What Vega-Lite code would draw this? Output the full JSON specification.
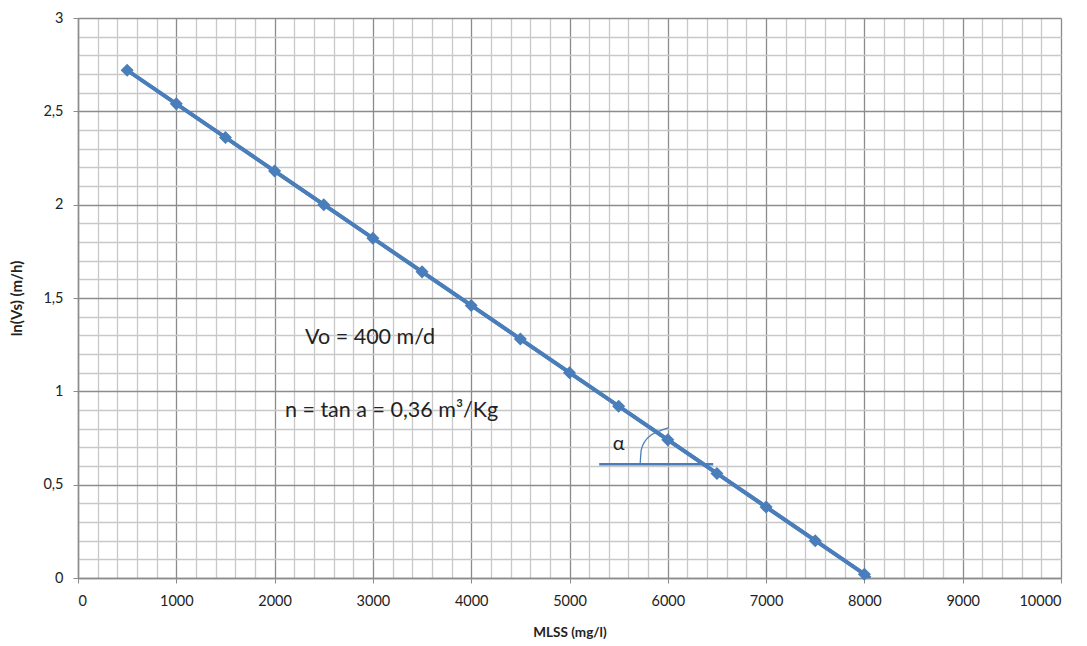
{
  "$schema": "https://vega.github.io/schema/vega-lite/v6.json",
  "width": 983,
  "height": 560,
  "autosize": {"type": "none"},
  "padding": {"left": 78, "top": 18, "right": 26, "bottom": 68},
  "background": "white",
  "config": {
    "view": {"stroke": null},
    "font": "Lato",
    "axis": {
      "labelFont": "Lato",
      "titleFont": "Lato",
      "labelColor": "#222222",
      "titleColor": "#222222",
      "domainColor": "#8c8c8c",
      "domainWidth": 1.5
    }
  },
  "datasets": {
    "points": [
      {"mlss": 500, "lnvs": 2.72},
      {"mlss": 1000, "lnvs": 2.54},
      {"mlss": 1500, "lnvs": 2.36},
      {"mlss": 2000, "lnvs": 2.18},
      {"mlss": 2500, "lnvs": 2.0},
      {"mlss": 3000, "lnvs": 1.82},
      {"mlss": 3500, "lnvs": 1.64},
      {"mlss": 4000, "lnvs": 1.46},
      {"mlss": 4500, "lnvs": 1.28},
      {"mlss": 5000, "lnvs": 1.10},
      {"mlss": 5500, "lnvs": 0.92},
      {"mlss": 6000, "lnvs": 0.74},
      {"mlss": 6500, "lnvs": 0.56},
      {"mlss": 7000, "lnvs": 0.38},
      {"mlss": 7500, "lnvs": 0.20},
      {"mlss": 8000, "lnvs": 0.02}
    ],
    "trend": [
      {"mlss": 500, "lnvs": 2.72},
      {"mlss": 8060, "lnvs": 0.0}
    ],
    "hline": [
      {"mlss": 5302, "lnvs": 0.61},
      {"mlss": 6462, "lnvs": 0.61}
    ],
    "arc": [
      {"i": 0, "mlss": 5719, "lnvs": 0.611},
      {"i": 1, "mlss": 5730, "lnvs": 0.686},
      {"i": 2, "mlss": 5770, "lnvs": 0.734},
      {"i": 3, "mlss": 5831, "lnvs": 0.766},
      {"i": 4, "mlss": 5912, "lnvs": 0.787},
      {"i": 5, "mlss": 6004, "lnvs": 0.804}
    ],
    "labels": [
      {"mlss": 2310, "lnvs": 1.285, "text": "Vo = 400 m/d", "size": 21.5},
      {"mlss": 2105, "lnvs": 0.895, "text": "n = tan a = 0,36 m³/Kg", "size": 21.5},
      {"mlss": 5440, "lnvs": 0.72, "text": "α", "size": 20}
    ]
  },
  "encoding": {
    "x": {
      "field": "mlss",
      "type": "quantitative",
      "scale": {"domain": [0, 10000], "nice": false},
      "axis": {
        "title": "MLSS (mg/l)",
        "titleFontSize": 13.5,
        "titleFontWeight": "bold",
        "titlePadding": 18,
        "values": [0,200,400,600,800,1000,1200,1400,1600,1800,2000,2200,2400,2600,2800,3000,3200,3400,3600,3800,4000,4200,4400,4600,4800,5000,5200,5400,5600,5800,6000,6200,6400,6600,6800,7000,7200,7400,7600,7800,8000,8200,8400,8600,8800,9000,9200,9400,9600,9800,10000],
        "labelExpr": "datum.value % 1000 === 0 ? format(datum.value, 'd') : ''",
        "labelFontSize": 14.5,
        "labelPadding": 11,
        "tickSize": 5,
        "tickColor": {"condition": {"test": "datum.value % 1000 === 0", "value": "#8c8c8c"}, "value": "transparent"},
        "grid": true,
        "gridColor": {"condition": {"test": "datum.value % 1000 === 0", "value": "#8c8c8c"}, "value": "#c8c8c8"},
        "gridWidth": 1.3,
        "gridOpacity": 1
      }
    },
    "y": {
      "field": "lnvs",
      "type": "quantitative",
      "scale": {"domain": [0, 3], "nice": false},
      "axis": {
        "title": "ln(Vs) (m/h)",
        "titleFontSize": 15,
        "titleFontWeight": "bold",
        "titlePadding": 18,
        "values": [0,0.1,0.2,0.3,0.4,0.5,0.6,0.7,0.8,0.9,1,1.1,1.2,1.3,1.4,1.5,1.6,1.7,1.8,1.9,2,2.1,2.2,2.3,2.4,2.5,2.6,2.7,2.8,2.9,3],
        "labelExpr": "abs(datum.value*2 - round(datum.value*2)) < 1e-6 ? replace(format(datum.value, '.1~f'), '.', ',') : ''",
        "labelFontSize": 14.5,
        "labelPadding": 10,
        "tickSize": 5,
        "tickColor": {"condition": {"test": "abs(datum.value*2 - round(datum.value*2)) < 1e-6", "value": "#8c8c8c"}, "value": "transparent"},
        "grid": true,
        "gridColor": {"condition": {"test": "abs(datum.value*2 - round(datum.value*2)) < 1e-6", "value": "#8c8c8c"}, "value": "#c8c8c8"},
        "gridWidth": 1.3,
        "gridOpacity": 1
      }
    }
  },
  "layer": [
    {
      "data": {"name": "trend"},
      "mark": {"type": "line", "color": "#4a7ebb", "strokeWidth": 3.8, "clip": true},
      "encoding": {}
    },
    {
      "data": {"name": "points"},
      "mark": {"type": "line", "color": "#4a7ebb", "strokeWidth": 3.8},
      "encoding": {}
    },
    {
      "data": {"name": "points"},
      "mark": {"type": "point", "shape": "diamond", "filled": true, "color": "#4a7ebb", "size": 170, "opacity": 1},
      "encoding": {}
    },
    {
      "data": {"name": "hline"},
      "mark": {"type": "line", "color": "#4a7ebb", "strokeWidth": 2.5},
      "encoding": {}
    },
    {
      "data": {"name": "arc"},
      "mark": {"type": "line", "color": "#4a7ebb", "strokeWidth": 1.3, "interpolate": "monotone"},
      "encoding": {"order": {"field": "i", "type": "quantitative"}}
    },
    {
      "data": {"name": "labels"},
      "mark": {"type": "text", "align": "left", "baseline": "middle", "color": "#222222", "font": "Lato"},
      "encoding": {
        "text": {"field": "text", "type": "nominal"},
        "size": {"field": "size", "type": "quantitative", "scale": null}
      }
    }
  ]
}
